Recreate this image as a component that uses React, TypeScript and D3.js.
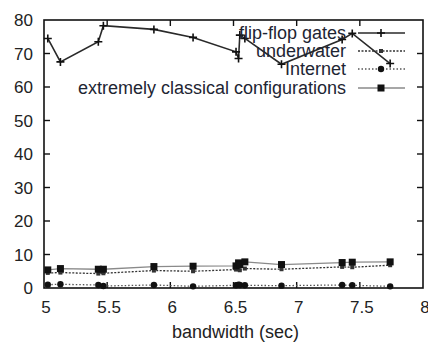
import React, { useEffect, useRef } from "react";
import * as d3 from "d3";

// bandwidth (sec) samples shared by all series
const bandwidth = [5.03, 5.13, 5.43, 5.47, 5.87, 6.18, 6.52, 6.54, 6.55, 6.59, 6.88, 7.36, 7.44, 7.74];
const flipFlop = [74.5, 67.5, 73.5, 78.3, 77.2, 74.8, 70.5, 68.5, 75.5, 74.5, 66.8, 74.2, 76.0, 67.0];
const underwater = [4.5, 4.6, 4.3, 4.4, 5.2, 5.0, 5.5, 5.7, 5.3, 5.8, 5.6, 6.3, 6.2, 6.8];
const internet = [1.0, 1.1, 0.9, 0.6, 0.9, 0.5, 0.8, 1.0, 0.9, 0.8, 0.7, 0.9, 0.8, 0.5];
const classical = [5.4, 5.8, 5.6, 5.6, 6.4, 6.5, 6.6, 7.5, 7.0, 7.8, 7.0, 7.6, 7.7, 7.8];

const seriesNames = ["flip-flop gates", "underwater", "Internet", "extremely classical configurations"];
const xTicks = [5, 5.5, 6, 6.5, 7, 7.5, 8];
const yTicks = [0, 10, 20, 30, 40, 50, 60, 70, 80];

const App = () => {
  const svgRef = useRef<SVGSVGElement>(null);
  const width = 428, height = 342;
  const left = 44, right = 423, top = 20, bottom = 288;

  useEffect(() => {
    const svg = d3.select(svgRef.current);
    svg.selectAll("*").remove();

    const x = d3.scaleLinear().domain([5, 8]).range([left, right]);
    const y = d3.scaleLinear().domain([0, 80]).range([bottom, top]);
    const font = "'Liberation Sans', Arial, sans-serif";

    const styles = [
      { data: flipFlop, stroke: "#2a2a2a", dash: null, width: 1.6, marker: "plus" },
      { data: underwater, stroke: "#333", dash: "2,1.5", width: 1.3, marker: "dot" },
      { data: internet, stroke: "#555", dash: "1.5,2", width: 1.3, marker: "circle" },
      { data: classical, stroke: "#8a8a8a", dash: null, width: 1.3, marker: "square" },
    ];

    const drawMarker = (g: any, cx: number, cy: number, kind: string) => {
      if (kind === "plus") {
        g.append("path").attr("d", `M${cx - 4},${cy}H${cx + 4}M${cx},${cy - 4}V${cy + 4}`)
          .attr("stroke", "#111").attr("stroke-width", 1.6);
      } else if (kind === "dot") {
        g.append("rect").attr("x", cx - 2).attr("y", cy - 2).attr("width", 4).attr("height", 4).attr("fill", "#333");
      } else if (kind === "circle") {
        g.append("circle").attr("cx", cx).attr("cy", cy).attr("r", 3.2).attr("fill", "#111");
      } else {
        g.append("rect").attr("x", cx - 3.5).attr("y", cy - 3.5).attr("width", 7).attr("height", 7).attr("fill", "#111");
      }
    };

    // frame
    svg.append("rect").attr("x", left).attr("y", top).attr("width", right - left).attr("height", bottom - top)
      .attr("fill", "none").attr("stroke", "#111").attr("stroke-width", 1.6);

    // inward ticks on all sides
    const tickLen = 6;
    xTicks.slice(1, -1).forEach(t => {
      svg.append("line").attr("x1", x(t)).attr("x2", x(t)).attr("y1", bottom).attr("y2", bottom - tickLen).attr("stroke", "#111").attr("stroke-width", 1.4);
      svg.append("line").attr("x1", x(t)).attr("x2", x(t)).attr("y1", top).attr("y2", top + tickLen).attr("stroke", "#111").attr("stroke-width", 1.4);
    });
    yTicks.slice(1, -1).forEach(t => {
      svg.append("line").attr("x1", left).attr("x2", left + tickLen).attr("y1", y(t)).attr("y2", y(t)).attr("stroke", "#111").attr("stroke-width", 1.4);
      svg.append("line").attr("x1", right).attr("x2", right - tickLen).attr("y1", y(t)).attr("y2", y(t)).attr("stroke", "#111").attr("stroke-width", 1.4);
    });

    // tick labels
    svg.append("g").selectAll("text").data(xTicks).join("text")
      .attr("x", d => x(d) + 2).attr("y", 313)
      .attr("text-anchor", "middle").attr("font-family", font).attr("font-size", 17).attr("fill", "#222")
      .text(d => String(d));
    svg.append("g").selectAll("text").data(yTicks).join("text")
      .attr("x", 33).attr("y", d => y(d)).attr("dy", "0.36em")
      .attr("text-anchor", "end").attr("font-family", font).attr("font-size", 17).attr("fill", "#222")
      .text(d => String(d));

    svg.append("text").attr("x", (left + right) / 2 + 2).attr("y", 338)
      .attr("text-anchor", "middle").attr("font-family", font).attr("font-size", 18).attr("fill", "#222")
      .text("bandwidth (sec)");

    // series lines and markers
    styles.forEach(s => {
      const pts = bandwidth.map((b, i) => [b, s.data[i]] as [number, number]);
      const line = d3.line<[number, number]>().x(d => x(d[0])).y(d => y(d[1]));
      svg.append("path").datum(pts).attr("d", line).attr("fill", "none")
        .attr("stroke", s.stroke).attr("stroke-width", s.width)
        .attr("stroke-dasharray", s.dash);
      const g = svg.append("g");
      pts.forEach(p => drawMarker(g, x(p[0]), y(p[1]), s.marker));
    });

    // legend
    const legendY = [33, 51, 69, 88];
    styles.forEach((s, i) => {
      const ly = legendY[i];
      svg.append("text").attr("x", 346).attr("y", ly).attr("dy", "0.36em")
        .attr("text-anchor", "end").attr("font-family", font).attr("font-size", 18).attr("fill", "#1e2533")
        .text(seriesNames[i]);
      svg.append("line").attr("x1", 358).attr("x2", 405).attr("y1", ly).attr("y2", ly)
        .attr("stroke", s.stroke).attr("stroke-width", s.width).attr("stroke-dasharray", s.dash);
      drawMarker(svg.append("g"), 381, ly, s.marker);
    });
  }, []);

  return (
    <svg ref={svgRef} width={width} height={height}
      style={{ position: "absolute", left: 0, top: 0, background: "#fff" }} />
  );
};

export default App;
